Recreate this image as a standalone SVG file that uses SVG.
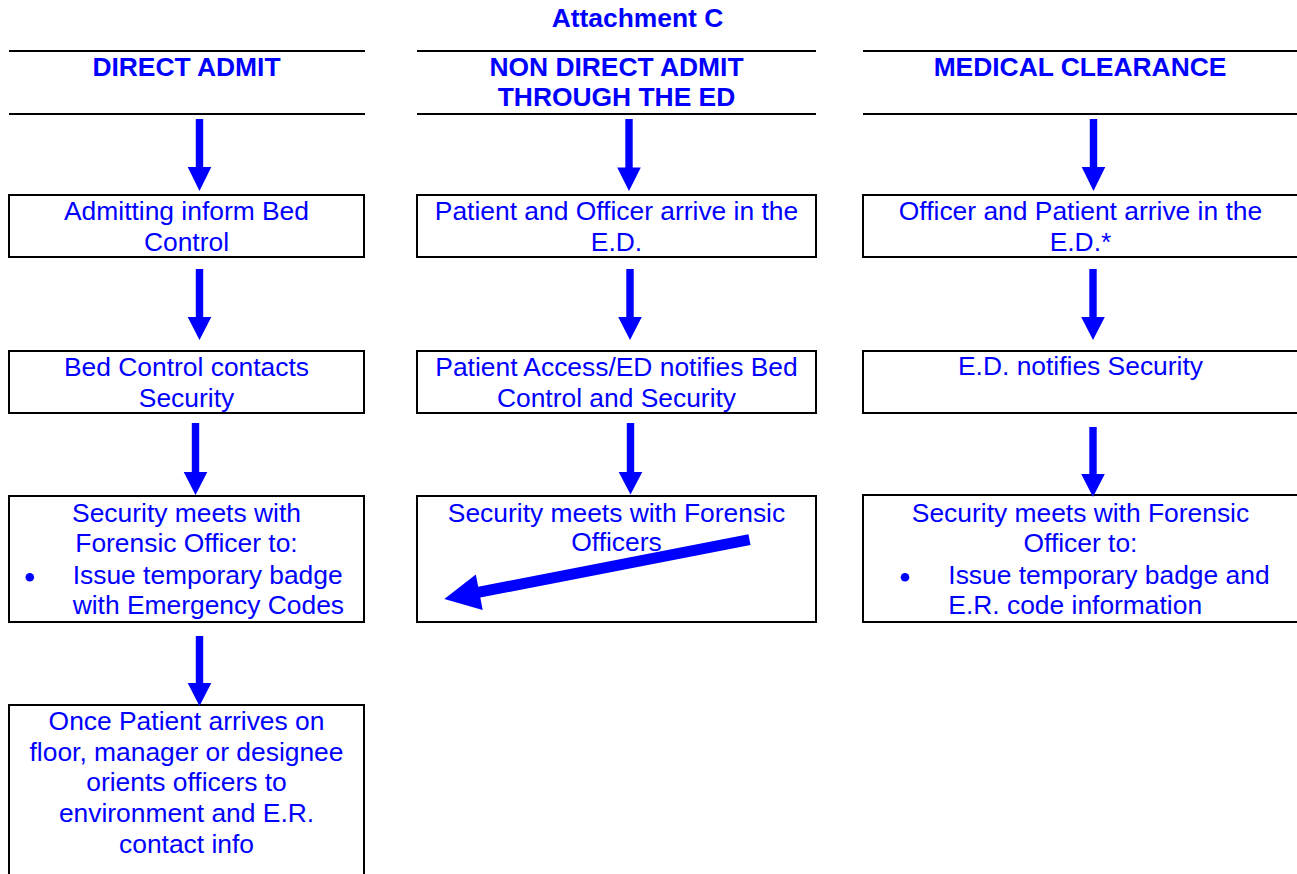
<svg xmlns="http://www.w3.org/2000/svg" width="1297" height="874" viewBox="0 0 1297 874">
<style>
.t{font-family:"Liberation Sans",Arial,sans-serif;font-size:26.4px;fill:#0000FF}
.c{text-anchor:middle}
.b{font-weight:bold}
.box{fill:#fff;stroke:#000;stroke-width:2}
.rule{stroke:#000;stroke-width:2}
.arr{fill:#0000FF}
.dot{fill:#0000FF}
</style>
<rect width="1297" height="874" fill="#fff"/>
<text class="t c b" x="637.5" y="26.7">Attachment C</text>
<g id="header-direct">
<line class="rule" x1="9" y1="51" x2="365" y2="51"/>
<line class="rule" x1="9" y1="114" x2="365" y2="114"/>
<text class="t c b" x="186.5" y="76">DIRECT ADMIT</text>
</g>
<g id="header-nondirect">
<line class="rule" x1="417" y1="51" x2="816" y2="51"/>
<line class="rule" x1="417" y1="114" x2="816" y2="114"/>
<text class="t c b" x="616.5" y="75.7">NON DIRECT ADMIT</text>
<text class="t c b" x="616.5" y="105.7">THROUGH THE ED</text>
</g>
<g id="header-medical">
<line class="rule" x1="863" y1="51" x2="1297" y2="51"/>
<line class="rule" x1="863" y1="114" x2="1297" y2="114"/>
<text class="t c b" x="1080" y="75.7">MEDICAL CLEARANCE</text>
</g>
<g id="l1"><rect class="box" x="9" y="195" width="355" height="62"/>
<text class="t c" x="186.5" y="219.5">Admitting inform Bed</text>
<text class="t c" x="186.5" y="250.5">Control</text></g>
<g id="l2"><rect class="box" x="9" y="351" width="355" height="62"/>
<text class="t c" x="186.5" y="375.7">Bed Control contacts</text>
<text class="t c" x="186.5" y="406.5">Security</text></g>
<g id="l3"><rect class="box" x="9" y="496" width="355" height="126"/>
<text class="t c" x="186.5" y="521.7">Security meets with</text>
<text class="t c" x="186.5" y="551.7">Forensic Officer to:</text>
<circle class="dot" cx="29.8" cy="577.3" r="4.3"/>
<text class="t" x="72.7" y="584.3">Issue temporary badge</text>
<text class="t" x="72.7" y="614">with Emergency Codes</text></g>
<g id="l4"><rect class="box" x="9" y="705" width="355" height="180"/>
<text class="t c" x="186.5" y="730">Once Patient arrives on</text>
<text class="t c" x="186.5" y="760.7">floor, manager or designee</text>
<text class="t c" x="186.5" y="791.3">orients officers to</text>
<text class="t c" x="186.5" y="822">environment and E.R.</text>
<text class="t c" x="186.5" y="852.5">contact info</text></g>
<g id="m1"><rect class="box" x="417" y="195" width="399" height="62"/>
<text class="t c" x="616.5" y="219.5">Patient and Officer arrive in the</text>
<text class="t c" x="616.5" y="250.5">E.D.</text></g>
<g id="m2"><rect class="box" x="417" y="351" width="399" height="62"/>
<text class="t c" x="616.5" y="375.7">Patient Access/ED notifies Bed</text>
<text class="t c" x="616.5" y="406.5">Control and Security</text></g>
<g id="m3"><rect class="box" x="417" y="496" width="399" height="126"/>
<text class="t c" x="616.5" y="521.7">Security meets with Forensic</text>
<text class="t c" x="616.5" y="550.7">Officers</text></g>
<g id="r1"><rect class="box" x="863" y="195" width="440" height="62"/>
<text class="t c" x="1080.5" y="219.5">Officer and Patient arrive in the</text>
<text class="t c" x="1080.5" y="250.5">E.D.*</text></g>
<g id="r2"><rect class="box" x="863" y="351" width="440" height="62"/>
<text class="t c" x="1080.5" y="375">E.D. notifies Security</text></g>
<g id="r3"><rect class="box" x="863" y="495" width="440" height="127"/>
<text class="t c" x="1080.5" y="521.7">Security meets with Forensic</text>
<text class="t c" x="1080.5" y="551.7">Officer to:</text>
<circle class="dot" cx="905" cy="577.3" r="4.3"/>
<text class="t" x="948.3" y="584.3">Issue temporary badge and</text>
<text class="t" x="948.3" y="614">E.R. code information</text></g>
<g id="connectors">
<path class="arr" d="M195.8 119H203.2V167H211.3L199.5 191L187.7 167H195.8Z"/>
<path class="arr" d="M195.8 269H203.2V317H211.3L199.5 340L187.7 317H195.8Z"/>
<path class="arr" d="M191.8 423H199.2V472H207.3L195.5 495L183.7 472H191.8Z"/>
<path class="arr" d="M195.8 636H203.2V683H211.3L199.5 706L187.7 683H195.8Z"/>
<path class="arr" d="M625.3 119H632.7V167.5H640.8L629 191L617.2 167.5H625.3Z"/>
<path class="arr" d="M626.3 269H633.7V317H641.8L630 340L618.2 317H626.3Z"/>
<path class="arr" d="M626.8 423H634.2V472H642.3L630.5 494.5L618.7 472H626.8Z"/>
<path class="arr" d="M1089.8 119H1097.2V167H1105.3L1093.5 191L1081.7 167H1089.8Z"/>
<path class="arr" d="M1089.3 269H1096.7V317H1104.8L1093 340L1081.2 317H1089.3Z"/>
<path class="arr" d="M1089.3 427H1096.7V474H1104.8L1093 497L1081.2 474H1089.3Z"/>
<path class="arr" d="M748.45 534.3L478.2 586.8L475.8 574.5L444.3 599L482.7 609.9L480.3 597.6L750.55 545.1Z"/>
</g>
</svg>
